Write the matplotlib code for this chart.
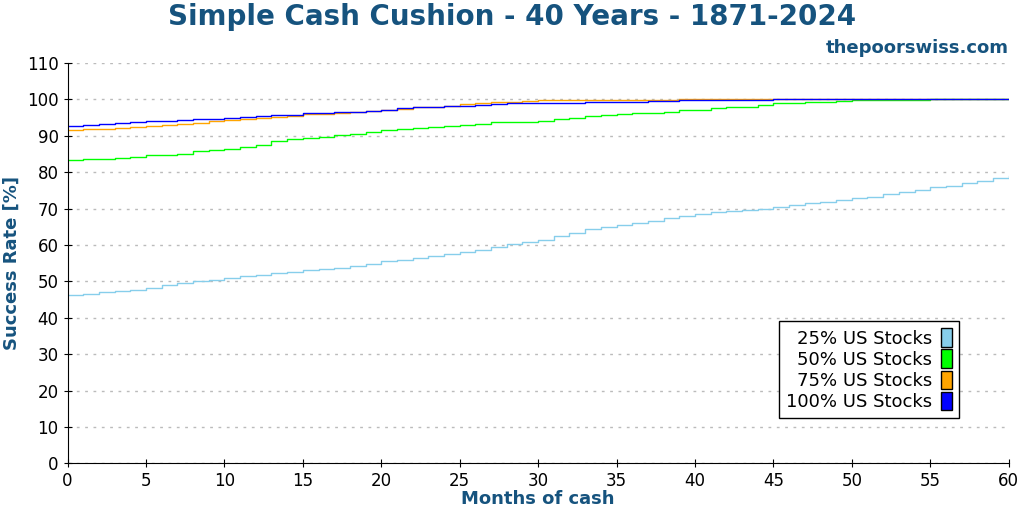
import numpy as np
from matplotlib import pyplot as plt
from matplotlib.patches import Patch

months = np.arange(61)
s25 = [46.2, 46.6, 47.0, 47.3, 47.7, 48.3, 48.9, 49.6, 50.0, 50.4,
       51.0, 51.4, 51.8, 52.2, 52.6, 53.0, 53.3, 53.8, 54.3, 54.9,
       55.5, 56.0, 56.5, 56.9, 57.4, 58.0, 58.7, 59.5, 60.2, 60.9,
       61.5, 62.4, 63.2, 64.3, 65.0, 65.5, 66.0, 66.6, 67.3, 67.9,
       68.5, 69.0, 69.3, 69.5, 69.8, 70.5, 71.0, 71.5, 71.9, 72.3,
       72.8, 73.3, 74.0, 74.6, 75.1, 75.8, 76.3, 76.9, 77.6, 78.3, 79.0]
s50 = [83.3, 83.5, 83.6, 83.8, 84.3, 84.8, 84.8, 85.0, 85.7, 86.2,
       86.5, 86.8, 87.5, 88.5, 89.0, 89.5, 89.8, 90.3, 90.5, 91.0,
       91.5, 91.8, 92.2, 92.4, 92.6, 93.0, 93.3, 93.8, 93.8, 93.8,
       94.0, 94.5, 94.9, 95.3, 95.6, 96.0, 96.2, 96.3, 96.6, 97.0,
       97.0, 97.5, 97.8, 98.0, 98.4, 99.0, 99.1, 99.3, 99.4, 99.6,
       99.7, 99.7, 99.8, 99.8, 99.9, 100.0, 100.0, 100.0, 100.0, 100.0, 100.0]
s75 = [91.5, 91.8, 91.8, 92.0, 92.5, 92.8, 93.0, 93.3, 93.5, 94.0,
       94.3, 94.5, 95.0, 95.2, 95.5, 96.0, 96.0, 96.2, 96.5, 96.8,
       97.0, 97.3, 97.8, 98.0, 98.2, 98.8, 99.0, 99.3, 99.3, 99.5,
       99.8, 99.8, 99.8, 99.8, 99.8, 99.8, 99.8, 99.9, 99.9, 100.0,
       100.0, 100.0, 100.0, 100.0, 100.0, 100.0, 100.0, 100.0, 100.0, 100.0,
       100.0, 100.0, 100.0, 100.0, 100.0, 100.0, 100.0, 100.0, 100.0, 100.0, 100.0]
s100 = [92.7, 93.0, 93.2, 93.5, 93.7, 94.0, 94.0, 94.3, 94.5, 94.7,
        95.0, 95.2, 95.4, 95.6, 95.8, 96.2, 96.2, 96.4, 96.6, 96.9,
        97.2, 97.5, 97.8, 98.0, 98.1, 98.3, 98.5, 98.7, 99.0, 99.0,
        99.0, 99.0, 99.1, 99.2, 99.3, 99.3, 99.4, 99.5, 99.6, 99.7,
        99.8, 99.8, 99.8, 99.9, 99.9, 100.0, 100.0, 100.0, 100.0, 100.0,
        100.0, 100.0, 100.0, 100.0, 100.0, 100.0, 100.0, 100.0, 100.0, 100.0, 100.0]
labels = ["25% US Stocks", "50% US Stocks", "75% US Stocks", "100% US Stocks"]
colors = ["#87ceeb", "#00ff00", "#ffa500", "#0000ff"]

blue = "#16537e"
fig = plt.figure(figsize=(10.24, 5.12), dpi=100)
ax = fig.add_axes([0.066, 0.095, 0.919, 0.782])
for s, c in zip([s25, s50, s75, s100], colors):
    ax.step(months, s, where="post", color=c, lw=1)

ax.set_xlim(0, 60)
ax.set_ylim(0, 110)
ax.set_xticks(range(0, 61, 5))
ax.set_yticks(range(0, 111, 10))
ax.tick_params(labelsize=12, direction="inout", length=6)
ax.grid(axis="y", ls=(0, (2, 4)), color="#bbbbbb", lw=1)
for side in ["top", "right"]:
    ax.spines[side].set_visible(False)
ax.set_xlabel("Months of cash", fontsize=13, fontweight="bold", color=blue, labelpad=0)
ax.set_ylabel("Success Rate [%]", fontsize=13, fontweight="bold", color=blue)
fig.suptitle("Simple Cash Cushion - 40 Years - 1871-2024", fontsize=20,
             fontweight="bold", color=blue, y=0.995)
fig.text(0.985, 0.897, "thepoorswiss.com", ha="right", fontsize=13,
         fontweight="bold", color=blue)

handles = [Patch(facecolor=c, edgecolor="black", lw=1) for c in colors]
leg = ax.legend(handles, labels, loc="lower right", bbox_to_anchor=(0.957, 0.09),
                markerfirst=False, fontsize=13, fancybox=False, framealpha=1,
                handlelength=0.6, handleheight=1.2, handletextpad=0.5,
                labelspacing=0.1, borderpad=0.4)
leg.get_frame().set_edgecolor("black")
for t in leg.get_texts():
    t.set_ha("right")

fig.savefig("out.png")
